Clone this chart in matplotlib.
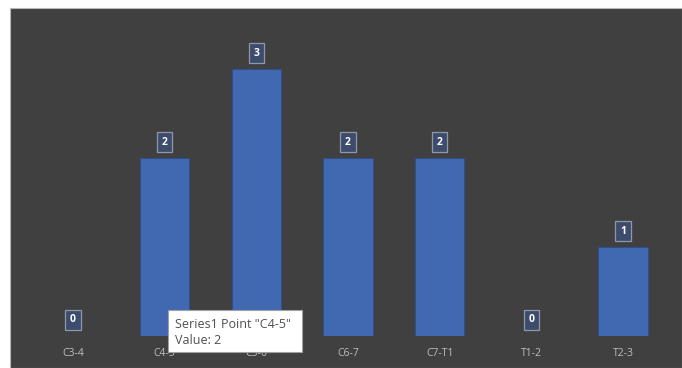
import numpy as np
import matplotlib.pyplot as plt
from matplotlib.patches import Rectangle

categories = ['C3-4', 'C4-5', 'C5-6', 'C6-7', 'C7-T1', 'T1-2', 'T2-3']
values = [0, 2, 3, 2, 2, 0, 1]

W, H = 682, 368
fig = plt.figure(figsize=(W / 100, H / 100), dpi=100, facecolor='white')
plt.rcParams['font.family'] = ['Open Sans', 'DejaVu Sans']

# dark chart area
fig.patches.append(Rectangle((10 / W, 0), (W - 10) / W, (H - 8) / H, transform=fig.transFigure,
                             facecolor='#404040', edgecolor='#b8b8b8', linewidth=0.8, zorder=-1))

# axes: left 10px .. right 682px, baseline at y=336px, top at 8px
ax = fig.add_axes([10 / W, (H - 336) / H, (W - 10) / W, (336 - 8) / H])
ax.set_zorder(1)
ax.set_facecolor('none')
step = 91.67
ax.set_xlim((10 - 73) / step, (682 - 73) / step)
unit = 89.0
ax.set_ylim(0, (336 - 8) / unit)

x = np.arange(len(categories))
ax.bar(x, values, width=0.535, color='#4169b2', edgecolor='#2f4f8a', linewidth=0.8, zorder=2)

for xi, v in zip(x, values):
    ax.text(xi, v + 16 / unit, str(v), ha='center', va='center', color='white',
            fontsize=7.5, fontweight='bold', zorder=4,
            bbox=dict(boxstyle='square,pad=0.45', facecolor='#3d4c6c', edgecolor='#8f98aa', linewidth=0.9))

ax.set_xticks(x)
ax.set_xticklabels(categories, color='#bfbfbf', fontsize=7.5)
ax.tick_params(axis='x', length=0, pad=9)
ax.set_yticks([])
for s in ax.spines.values():
    s.set_visible(False)

# tooltip
fig.patches.append(Rectangle((168 / W, (H - 352) / H), 134 / W, 42 / H, transform=fig.transFigure,
                             facecolor='white', edgecolor='#a0a0a0', linewidth=0.8, zorder=10))
fig.text(175 / W, (H - 324) / H, 'Series1 Point "C4-5"', fontsize=9, color='#505050',
         va='center', ha='left', zorder=11)
fig.text(175 / W, (H - 341) / H, 'Value: 2', fontsize=9, color='#505050',
         va='center', ha='left', zorder=11)

fig.savefig('out.png', dpi=100, facecolor='white')
